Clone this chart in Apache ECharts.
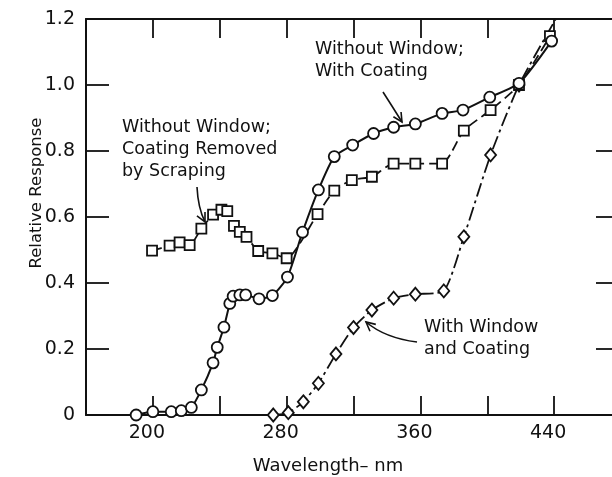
<!DOCTYPE html>
<html><head><meta charset="utf-8">
<script src="https://cdn.jsdelivr.net/npm/echarts@6/dist/echarts.min.js"></script>
<style>html,body{margin:0;padding:0;background:#fff}#c{width:612px;height:477px}</style>
</head><body><div id="c"></div>
<script>
// Without Window; With Coating (circles, solid)
const coatedWl  = [190, 200, 211, 217, 223, 229, 236, 238.5, 242.5, 246, 248, 252, 255.5, 263.5, 271.5, 280.5, 289.5, 299, 308.5, 319.5, 332, 344, 357, 373, 385.5, 401.5, 419, 438.5];
const coatedVal = [0.00, 0.01, 0.01, 0.013, 0.023, 0.076, 0.158, 0.205, 0.266, 0.338, 0.36, 0.364, 0.364, 0.352, 0.362, 0.418, 0.554, 0.682, 0.783, 0.818, 0.853, 0.872, 0.882, 0.914, 0.924, 0.963, 1.005, 1.133];
// Without Window; Coating Removed by Scraping (squares, dashed)
const scrapedWl  = [199.5, 210, 216, 222, 229, 236, 241, 244.5, 248.5, 252, 256, 263, 271.5, 280, 298.5, 308.5, 319, 331, 344, 357, 373, 386, 402, 419, 437.5];
const scrapedVal = [0.498, 0.513, 0.523, 0.515, 0.565, 0.607, 0.622, 0.618, 0.573, 0.555, 0.54, 0.497, 0.49, 0.475, 0.609, 0.68, 0.712, 0.722, 0.762, 0.762, 0.762, 0.862, 0.924, 1.0, 1.148];
// With Window and Coating (diamonds, dash-dot)
const windowWl  = [272, 281, 290, 299, 309.5, 320, 331, 344, 357, 374, 386, 402, 419, 441];
const windowVal = [0.00, 0.007, 0.04, 0.096, 0.185, 0.265, 0.318, 0.354, 0.366, 0.376, 0.54, 0.788, 1.0, 1.2];
const xLabeled = [200, 280, 360, 440];
const yTicks = ['0', '0.2', '0.4', '0.6', '0.8', '1.0', '1.2'];

const FONT = '"DejaVu Sans", sans-serif';
const INK = '#111';
const zip = (a, b) => a.map((v, i) => [v, b[i]]);

const chart = echarts.init(document.getElementById('c'), null, {renderer: 'canvas'});

const axisCommon = {
  axisLine: {show: true, onZero: false, lineStyle: {color: INK, width: 2}},
  splitLine: {show: false}
};

const markerStyle = {color: '#fff', borderColor: INK, borderWidth: 1.8};

chart.setOption({
  animation: false,
  backgroundColor: '#fff',
  grid: {left: 86, top: 19, width: 535, height: 396, containLabel: false, outerBoundsMode: 'none'},
  xAxis: [
    Object.assign({
      type: 'value', min: 160, max: 480, interval: 40, position: 'bottom',
      axisTick: {show: true, inside: true, length: 19, lineStyle: {color: INK, width: 1.8}},
      axisLabel: {
        show: true, color: INK, fontFamily: FONT, fontSize: 19, margin: 9,
        padding: [0, 12, 0, 0],
        formatter: v => xLabeled.indexOf(v) >= 0 ? String(v) : ''
      }
    }, axisCommon),
    Object.assign({
      type: 'value', min: 160, max: 480, interval: 40, position: 'top',
      axisTick: {show: true, inside: true, length: 19, lineStyle: {color: INK, width: 1.8}},
      axisLabel: {show: false}
    }, axisCommon)
  ],
  yAxis: [
    Object.assign({
      type: 'value', min: 0, max: 1.2, interval: 0.2, position: 'left',
      axisTick: {show: true, inside: true, length: 23, lineStyle: {color: INK, width: 1.8}},
      axisLabel: {
        show: true, color: INK, fontFamily: FONT, fontSize: 19, margin: 11,
        formatter: (v) => yTicks[Math.round(v / 0.2)]
      }
    }, axisCommon),
    Object.assign({
      type: 'value', min: 0, max: 1.2, interval: 0.2, position: 'right',
      axisTick: {show: true, inside: true, length: 25, lineStyle: {color: INK, width: 1.8}},
      axisLabel: {show: false}
    }, axisCommon)
  ],
  series: [
    {
      type: 'line', name: 'With Window and Coating', data: zip(windowWl, windowVal).map((p, i, arr) =>
        i === arr.length - 1 ? {value: p, symbol: 'none'} : p),
      symbol: 'diamond', symbolSize: [11, 13], smooth: 0.2, z: 2,
      lineStyle: {color: INK, width: 1.8, type: [14, 4, 3, 4]},
      itemStyle: markerStyle
    },
    {
      type: 'line', name: 'Coating Removed by Scraping', data: zip(scrapedWl, scrapedVal),
      symbol: 'rect', symbolSize: 10, smooth: 0.2, z: 3,
      lineStyle: {color: INK, width: 1.8, type: [10, 5]},
      itemStyle: markerStyle
    },
    {
      type: 'line', name: 'Without Window; With Coating', data: zip(coatedWl, coatedVal),
      symbol: 'circle', symbolSize: 11, smooth: 0.2, z: 4,
      lineStyle: {color: INK, width: 2},
      itemStyle: markerStyle
    }
  ]
});

function arrow(p0, c, p1) {
  const dx = p1[0] - c[0], dy = p1[1] - c[1];
  const L = Math.hypot(dx, dy), ux = dx / L, uy = dy / L;
  const h = 9, w = 4.5;
  const bx = p1[0] - ux * h, by = p1[1] - uy * h;
  return [
    {type: 'bezierCurve', shape: {x1: p0[0], y1: p0[1], cpx1: c[0], cpy1: c[1], x2: p1[0], y2: p1[1]},
     style: {stroke: INK, lineWidth: 1.6, fill: null}, z: 10},
    {type: 'polyline', shape: {points: [[bx - uy * w, by + ux * w], p1, [bx + uy * w, by - ux * w]]},
     style: {stroke: INK, lineWidth: 1.6, fill: null}, z: 10}
  ];
}

const textStyle = (t) => ({text: t, fill: INK, font: '17.5px ' + FONT, lineHeight: 22, textAlign: 'left', textVerticalAlign: 'top'});

chart.setOption({
  graphic: [
    {type: 'text', x: 122, y: 116, style: textStyle('Without Window;\nCoating Removed\nby Scraping'), z: 10},
    {type: 'text', x: 315, y: 38, style: textStyle('Without Window;\nWith Coating'), z: 10},
    {type: 'text', x: 424, y: 316, style: textStyle('With Window\nand Coating'), z: 10},
    {type: 'text', x: 328, y: 466, style: {text: 'Wavelength\u2013 nm', fill: INK, font: '18px ' + FONT, textAlign: 'center', textVerticalAlign: 'middle'}},
    {type: 'text', x: 37, y: 193, rotation: Math.PI / 2, style: {text: 'Relative Response', fill: INK, font: '16.5px ' + FONT, textAlign: 'center', textVerticalAlign: 'middle'}},
    ...arrow([197, 187], [198, 208], [205, 222]),
    ...arrow([383, 92], [392, 106], [402, 122]),
    ...arrow([417, 342], [385, 338], [366, 322])
  ]
});
</script>
</body></html>
